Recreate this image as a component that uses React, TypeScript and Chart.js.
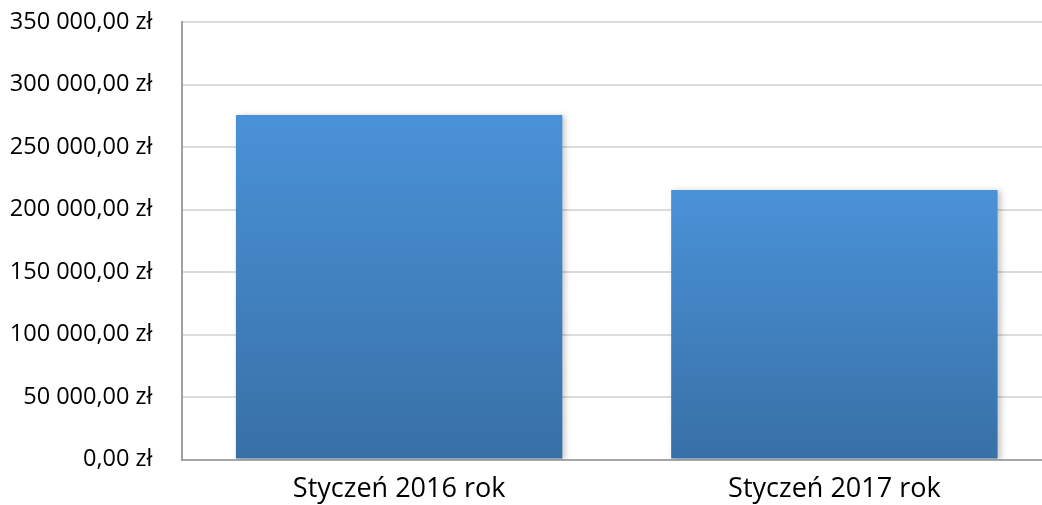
import React, { useEffect, useRef } from "react";
import { Chart, registerables } from "chart.js";

Chart.register(...registerables);

const categories = ["Styczeń 2016 rok", "Styczeń 2017 rok"];
const values = [275600, 215600];
const yMin = 0;
const yMax = 350000;
const yStep = 50000;

function formatPLN(v: number): string {
  const int = Math.round(v).toString().replace(/\B(?=(\d{3})+(?!\d))/g, " ");
  return `${int},00 zł`;
}

const shadowPlugin = {
  id: "barShadow",
  beforeDatasetsDraw(chart: any) {
    const ctx = chart.ctx;
    ctx.save();
    ctx.shadowColor = "rgba(0,0,0,0.22)";
    ctx.shadowBlur = 6;
    ctx.shadowOffsetX = 3;
    ctx.shadowOffsetY = 1;
  },
  afterDatasetsDraw(chart: any) {
    chart.ctx.restore();
  },
};

export default function App() {
  const ref = useRef<HTMLCanvasElement | null>(null);

  useEffect(() => {
    document.body.style.margin = "0";
    if (!ref.current) return;
    const chart = new Chart(ref.current, {
      type: "bar",
      data: {
        labels: categories,
        datasets: [
          {
            data: values,
            backgroundColor: (c: any) => {
              const chart = c.chart;
              const y = chart.scales?.y;
              if (!chart.chartArea || !y || c.raw == null) return "#4285c8";
              const top = y.getPixelForValue(c.raw);
              const bottom = y.getPixelForValue(0);
              const g = chart.ctx.createLinearGradient(0, top, 0, bottom);
              g.addColorStop(0, "#4a92d8");
              g.addColorStop(1, "#3870a6");
              return g;
            },
            borderWidth: 0,
            categoryPercentage: 1,
            barPercentage: 0.75,
          },
        ],
      },
      options: {
        animation: false,
        responsive: true,
        maintainAspectRatio: false,
        layout: { autoPadding: false, padding: { top: 22, left: 0, right: 0, bottom: 0 } },
        plugins: {
          legend: { display: false },
          tooltip: { enabled: false },
        },
        scales: {
          x: {
            grid: { display: false, drawTicks: false },
            border: { display: true, color: "#a6a6a6", width: 2 },
            ticks: {
              color: "#000",
              padding: 14,
              font: { family: "Open Sans", size: 27 },
            },
            afterFit: (s: any) => {
              s.height = 45.5;
              s.paddingLeft = 0;
              s.paddingRight = 0;
            },
          },
          y: {
            min: yMin,
            max: yMax,
            grid: { color: "#dcdcdc", lineWidth: 2, drawTicks: false },
            border: { display: true, color: "#a0a0a0", width: 2 },
            ticks: {
              stepSize: yStep,
              color: "#000",
              padding: 29,
              font: { family: "Open Sans", size: 23.5 },
              callback: (v: any) => formatPLN(Number(v)),
            },
            afterFit: (s: any) => {
              s.width = 181.5;
              s.paddingTop = 0;
              s.paddingBottom = 0;
            },
          },
        },
      },
      plugins: [shadowPlugin],
    });
    return () => chart.destroy();
  }, []);

  return (
    <div style={{ width: 1042, height: 505, overflow: "hidden", position: "relative", background: "#fff" }}>
      <div style={{ width: 1052, height: 505, position: "absolute", left: 0, top: 0 }}>
        <canvas ref={ref} />
      </div>
    </div>
  );
}
